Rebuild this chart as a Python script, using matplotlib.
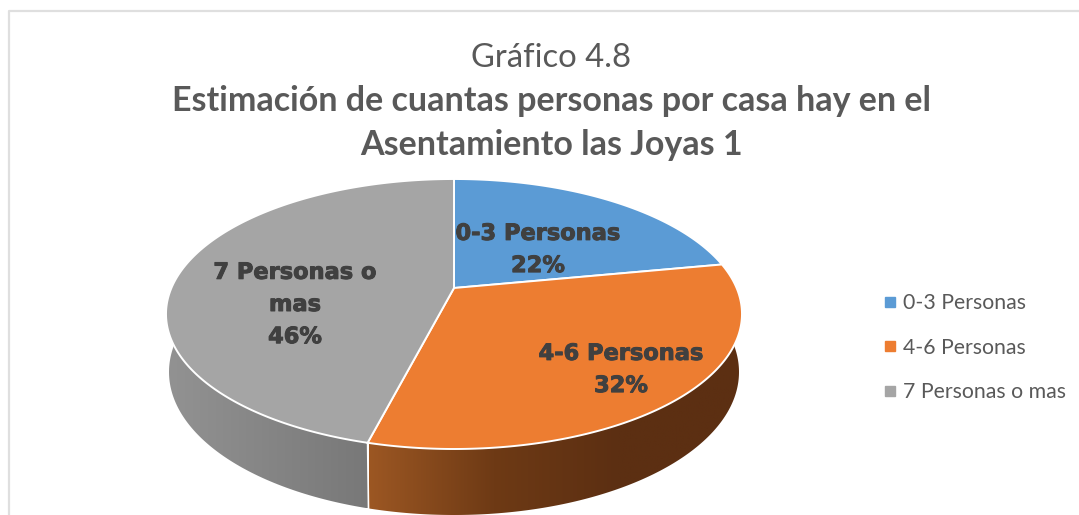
# Grafico 4.8 - pie with perspective and side wall, axes are in image pixels

import numpy as np
import matplotlib
matplotlib.use('Agg')
import matplotlib.pyplot as plt
import matplotlib.patheffects as pe
from matplotlib.colors import LinearSegmentedColormap
from matplotlib.lines import Line2D

categories = ['0-3 Personas', '4-6 Personas', '7 Personas o mas']
shares = [22, 32, 46]
label_texts = ['0-3 Personas\n22%', '4-6 Personas\n32%', '7 Personas o\nmas\n46%']

colors = ['#5B9BD5', '#ED7D31', '#A5A5A5']
wall_colors = [['#3A6F9E', '#2F5F88'],
               ['#9C5723', '#6E3A15', '#5C2F12', '#5C2F12'],
               ['#929292', '#6D6D6D']]
label_pos = [(538, 250), (621, 370), (295, 305)]

cx, cy, rx, ry = 454, 314, 288, 135
k = 26 / 135
c = rx * np.sqrt(1 - k ** 2)


# pie angle (clockwise from top) to point on the tilted top face
def rim(theta):
    x, y = np.sin(theta), np.cos(theta)
    w = 1 + k * y
    return c * x / w, (ry * y + 26) / w


def top_point(theta):
    dx, dy = rim(theta)
    return cx + dx, cy - dy


def low_point(theta):
    dx, dy = rim(theta)
    return cx + dx * 285 / rx, 372 - dy * 143 / ry


fig = plt.figure(figsize=(10.79, 5.15), dpi=100)
ax = fig.add_axes([0, 0, 1, 1])

# chart frame, runs off the right and bottom of the picture
ax.plot([9, 9, 1079], [515, 11, 11], color='#DFDFDF', lw=1.6, zorder=0)

edges = np.cumsum([0] + shares) / sum(shares) * 2 * np.pi

# side wall
for i in range(len(shares)):
    t = np.linspace(edges[i], edges[i + 1], 200)
    tx, ty = top_point(t)
    bx, by = low_point(t)
    poly_x = np.r_[tx, bx[::-1]]
    poly_y = np.r_[ty, by[::-1]]
    patch = ax.fill(poly_x, poly_y, color='none', lw=0, zorder=1)[0]
    cmap = LinearSegmentedColormap.from_list('wall%d' % i, wall_colors[i])
    im = ax.imshow(np.linspace(0, 1, 256)[None, :], cmap=cmap, aspect='auto', zorder=1,
                   extent=[bx.min(), max(poly_x), max(poly_y), min(poly_y)])
    im.set_clip_path(patch)

# white seam between the grey and orange walls
sx, sy = top_point(edges[2])
ex, ey = low_point(edges[2])
ax.plot([sx, ex], [sy, ey], color='white', lw=1.2, zorder=2)

# top face
apex = (cx, cy - 26)
for i in range(len(shares)):
    t = np.linspace(edges[i], edges[i + 1], 200)
    tx, ty = top_point(t)
    ax.fill(np.r_[apex[0], tx], np.r_[apex[1], ty], facecolor=colors[i],
            edgecolor='white', lw=1.4, zorder=3)

for text, pos in zip(label_texts, label_pos):
    ax.text(pos[0], pos[1], text, ha='center', va='center', fontsize=16.2, fontweight='bold',
            family='DejaVu Sans', color='#404040', linespacing=1.76, zorder=4,
            path_effects=[pe.withStroke(linewidth=0.7, foreground='#404040')])

ax.text(551, 58, 'Gráfico 4.8', ha='center', va='center', fontsize=23.6, family='Lato', color='#595959')
ax.text(551, 123, 'Estimación de cuantas personas por casa hay en el\nAsentamiento las Joyas 1',
        ha='center', va='center', fontsize=24.5, fontweight='bold', family='Lato',
        color='#595959', linespacing=1.43)

handles = [Line2D([], [], linestyle='none', marker='s', markersize=6.5, color=col) for col in colors]
ax.legend(handles, categories, loc='center left', bbox_to_anchor=(884 / 1079, 1 - 347.5 / 515),
          frameon=False, prop={'family': 'Lato', 'size': 15.3}, labelcolor='#595959',
          labelspacing=1.15, handlelength=0.6, handletextpad=0.3, borderpad=0, borderaxespad=0)

ax.set_xlim(0, 1079)
ax.set_ylim(515, 0)
ax.axis('off')

plt.savefig('out.png', dpi=100)
